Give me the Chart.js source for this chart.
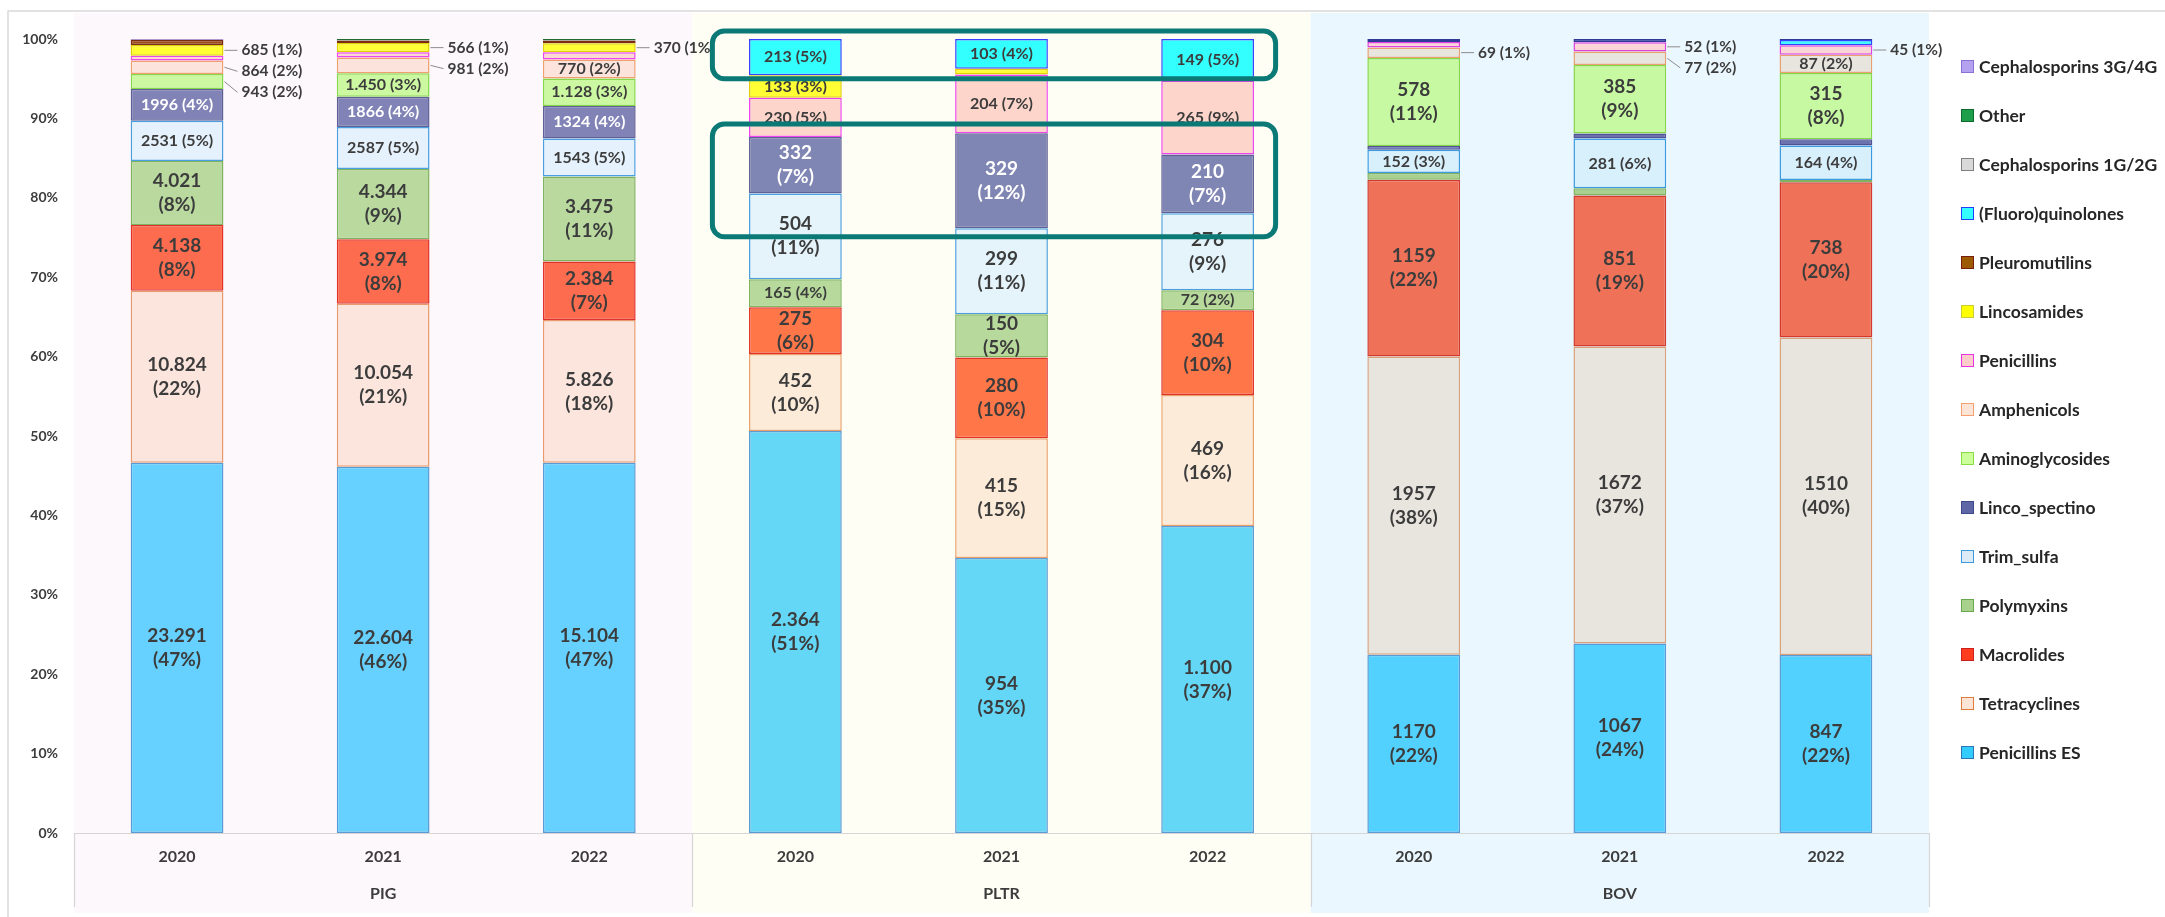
<!DOCTYPE html>
<html>
<head>
<meta charset="UTF-8">
<script src="https://cdn.jsdelivr.net/npm/chart.js@4"></script>
<style>
  * { margin: 0; padding: 0; box-sizing: border-box; }
  body { width: 2165px; height: 917px; background: #fff; overflow: hidden; font-family: Lato, 'Open Sans', sans-serif; }
  #wrap { position: relative; width: 2165px; height: 917px; }
  canvas { position: absolute; left: 0; top: 0; }
  #legend { position: absolute; left: 1961px; top: 41.5px; }
  .item { height: 49px; display: flex; align-items: center; font-weight: 700; font-size: 17.5px; color: #262626; white-space: nowrap; }
  .sw { width: 13px; height: 13px; border: 1.5px solid; margin-right: 5px; flex: none; }
</style>
</head>
<body>
<div id="wrap">
  <canvas id="chart" width="2165" height="917"></canvas>
  <div id="legend"></div>
</div>
<script>
// categories: PIG 2020-2022, PLTR 2020-2022, BOV 2020-2022
const years = ['2020', '2021', '2022', '2020', '2021', '2022', '2020', '2021', '2022'];
const groups = ['PIG', 'PLTR', 'BOV'];
const yTicks = [0, 10, 20, 30, 40, 50, 60, 70, 80, 90, 100];

// values per antimicrobial class (bottom of the stack first)
const penicillinsES   = [23291, 22604, 15104, 2364, 954, 1100, 1170, 1067, 847];
const tetracyclines   = [10824, 10054, 5826, 452, 415, 469, 1957, 1672, 1510];
const macrolides      = [4138, 3974, 2384, 275, 280, 304, 1159, 851, 738];
const polymyxins      = [4021, 4344, 3475, 165, 150, 72, 45, 40, 10];
const trimSulfa       = [2531, 2587, 1543, 504, 299, 276, 152, 281, 164];
const lincoSpectino   = [1996, 1866, 1324, 332, 329, 210, 25, 28, 30];
const aminoglycosides = [943, 1450, 1128, 0, 0, 0, 578, 385, 315];
const amphenicols     = [864, 981, 770, 0, 0, 0, 69, 77, 87];
const penicillins     = [290, 320, 300, 230, 204, 265, 35, 52, 45];
const lincosamides    = [685, 566, 370, 133, 20, 0, 0, 0, 0];
const pleuromutilins  = [320, 160, 110, 0, 0, 0, 0, 0, 0];
const fluoroquinolones = [0, 0, 0, 213, 103, 149, 0, 0, 25];
const cephalo12       = [0, 0, 0, 0, 0, 0, 0, 0, 0];
const other           = [0, 90, 60, 0, 0, 0, 0, 0, 0];
const cephalo34       = [50, 0, 0, 0, 0, 0, 20, 18, 5];
// totals the percentages in the labels refer to
const barTotals = [49953, 48996, 32394, 4668, 2754, 2973, 5210, 4471, 3776];

const seriesList = [
  ['Penicillins ES', penicillinsES],
  ['Tetracyclines', tetracyclines],
  ['Macrolides', macrolides],
  ['Polymyxins', polymyxins],
  ['Trim_sulfa', trimSulfa],
  ['Linco_spectino', lincoSpectino],
  ['Aminoglycosides', aminoglycosides],
  ['Amphenicols', amphenicols],
  ['Penicillins', penicillins],
  ['Lincosamides', lincosamides],
  ['Pleuromutilins', pleuromutilins],
  ['(Fluoro)quinolones', fluoroquinolones],
  ['Cephalosporins 1G/2G', cephalo12],
  ['Other', other],
  ['Cephalosporins 3G/4G', cephalo34]
];

// bar colours per panel [PIG, PLTR, BOV]
const fills = {
  'Penicillins ES': ['#66d1fe', '#64d7f6', '#52d1ff'],
  'Tetracyclines': ['#fbe5dd', '#fdebd9', '#e8e5df'],
  'Macrolides': ['#fd6c4e', '#ff7649', '#ee7158'],
  'Polymyxins': ['#b9d99f', '#b7d99b', '#a9d08e'],
  'Trim_sulfa': ['#e5f1fc', '#e4f4fa', '#d8effc'],
  'Linco_spectino': ['#8183b7', '#8086b3', '#6d72ae'],
  'Aminoglycosides': ['#ccf8a2', '#ccf8a2', '#c6f9a1'],
  'Amphenicols': ['#fce4dc', '#fde6d9', '#e8e5df'],
  'Penicillins': ['#fcd8d2', '#fdd5cb', '#fcd5d6'],
  'Lincosamides': ['#ffff33', '#ffff33', '#ffff33'],
  'Pleuromutilins': ['#9b4e1c', '#9b4e1c', '#9b4e1c'],
  '(Fluoro)quinolones': ['#33ffff', '#33ffff', '#33ffff'],
  'Cephalosporins 1G/2G': ['#d9d9d9', '#d9d9d9', '#d9d9d9'],
  'Other': ['#2e8b3e', '#2e8b3e', '#2e8b3e'],
  'Cephalosporins 3G/4G': ['#a58fdc', '#a58fdc', '#4b55b0']
};
const borders = {
  'Penicillins ES': ['#5b9bd5', '#5b9bd5', '#5b9bd5'],
  'Tetracyclines': ['#e99a6c', '#e9a26c', '#d9a27a'],
  'Macrolides': ['#e0322a', '#e0322a', '#d33a2e'],
  'Polymyxins': ['#7fb35f', '#7fb35f', '#7fb35f'],
  'Trim_sulfa': ['#4a9fe0', '#4a9fe0', '#3c9ae0'],
  'Linco_spectino': ['#5f6196', '#5f6196', '#4f5396'],
  'Aminoglycosides': ['#86d848', '#86d848', '#86d848'],
  'Amphenicols': ['#f0a070', '#f0a070', '#e8a070'],
  'Penicillins': ['#ee44ee', '#ee44ee', '#e040e0'],
  'Lincosamides': ['#e0d000', '#e0d000', '#e0d000'],
  'Pleuromutilins': ['#7a2d10', '#7a2d10', '#7a2d10'],
  '(Fluoro)quinolones': ['#3344ff', '#3344ff', '#3344ff'],
  'Cephalosporins 1G/2G': ['#8c8c8c', '#8c8c8c', '#8c8c8c'],
  'Other': ['#1f6b30', '#1f6b30', '#1f6b30'],
  'Cephalosporins 3G/4G': ['#7f5fc7', '#7f5fc7', '#2f3a98']
};
const legendColors = {
  'Cephalosporins 3G/4G': ['#b4a2f0', '#8a6fd6'],
  'Other': ['#1e9e4a', '#0d6b2e'],
  'Cephalosporins 1G/2G': ['#d9d9d9', '#7f7f7f'],
  '(Fluoro)quinolones': ['#33ffff', '#1f3fff'],
  'Pleuromutilins': ['#9c5b00', '#7a1f10'],
  'Lincosamides': ['#ffff00', '#cccc33'],
  'Penicillins': ['#ffcccc', '#e633e6'],
  'Amphenicols': ['#fce4d6', '#f4a070'],
  'Aminoglycosides': ['#ccff99', '#88dd44'],
  'Linco_spectino': ['#5f66a6', '#3f4888'],
  'Trim_sulfa': ['#ddebf7', '#3c9ae0'],
  'Polymyxins': ['#a9d18e', '#6aa84f'],
  'Macrolides': ['#ff3c1e', '#cc2020'],
  'Tetracyclines': ['#fce4d6', '#e07b39'],
  'Penicillins ES': ['#33ccff', '#2e75b6']
};
const panelColors = ['#fdf8fc', '#fefef5', '#ebf7fe'];
const FONT = 'Lato';
const TEXT = '#3c3c3c';

const sums = years.map((_, j) => seriesList.reduce((s, [, v]) => s + v[j], 0));

function fmt(v, name, g) {
  if (g === 2 || (g === 0 && (name === 'Trim_sulfa' || name === 'Linco_spectino'))) return String(v);
  return String(v).replace(/\B(?=(\d{3})+(?!\d))/g, '.');
}

const datasets = seriesList.map(([name, vals]) => ({
  label: name,
  data: vals.map((v, j) => v ? v / sums[j] * 100 : null),
  rawValues: vals,
  backgroundColor: years.map((_, j) => fills[name][Math.floor(j / 3)]),
  borderColor: years.map((_, j) => borders[name][Math.floor(j / 3)]),
  borderWidth: 1.5,
  borderSkipped: false,
  barPercentage: 0.45,
  categoryPercentage: 1
}));

const panelsPlugin = {
  id: 'panels',
  beforeDraw(chart) {
    const { ctx, chartArea: a } = chart;
    const step = (a.right - a.left) / years.length;
    ctx.save();
    ctx.fillStyle = '#fff';
    ctx.fillRect(0, 0, chart.width, chart.height);
    panelColors.forEach((c, g) => {
      ctx.fillStyle = c;
      ctx.fillRect(a.left + g * 3 * step, 13, 3 * step, 900);
    });
    // outer frame (top + left visible)
    ctx.strokeStyle = '#d9d9d9';
    ctx.lineWidth = 1.5;
    ctx.beginPath();
    ctx.moveTo(8, chart.height);
    ctx.lineTo(8, 11);
    ctx.lineTo(chart.width, 11);
    ctx.stroke();
    // category box
    ctx.strokeStyle = '#d6d6d6';
    ctx.lineWidth = 1.2;
    ctx.beginPath();
    ctx.moveTo(a.left, a.bottom + 0.5);
    ctx.lineTo(a.right, a.bottom + 0.5);
    for (let k = 0; k <= 3; k++) {
      const x = Math.round(a.left + k * 3 * step) + 0.5;
      ctx.moveTo(x, a.bottom);
      ctx.lineTo(x, a.bottom + 74);
    }
    ctx.stroke();
    ctx.fillStyle = TEXT;
    ctx.font = `bold 16px ${FONT}`;
    ctx.textAlign = 'center';
    ctx.textBaseline = 'middle';
    groups.forEach((g, i) => ctx.fillText(g, a.left + (i * 3 + 1.5) * step, 894));
    ctx.restore();
  }
};

const labelsPlugin = {
  id: 'segLabels',
  afterDatasetsDraw(chart) {
    const ctx = chart.ctx;
    const outside = years.map(() => []);
    ctx.save();
    ctx.textAlign = 'center';
    ctx.textBaseline = 'middle';
    chart.data.datasets.forEach((ds, di) => {
      const meta = chart.getDatasetMeta(di);
      meta.data.forEach((bar, j) => {
        const v = ds.rawValues[j];
        if (!v) return;
        const { x, y, base, width } = bar.getProps(['x', 'y', 'base', 'width'], true);
        const h = Math.abs(base - y);
        if (h < 8.5) return;
        const g = Math.floor(j / 3);
        const name = ds.label;
        const num = fmt(v, name, g);
        const pct = '(' + Math.round(v / barTotals[j] * 100) + '%)';
        const cy = (y + base) / 2;
        if (h < 17) {
          outside[j].push({ right: x + width / 2, cy, text: num + ' ' + pct });
          return;
        }
        ctx.fillStyle = name === 'Linco_spectino' ? '#ffffff' : TEXT;
        const oneLine = ['Penicillins', '(Fluoro)quinolones', 'Lincosamides', 'Amphenicols'].includes(name) ||
          (g !== 1 && (name === 'Trim_sulfa' || name === 'Linco_spectino')) || h < 42;
        if (oneLine) {
          ctx.font = `bold 16px ${FONT}`;
          ctx.fillText(num + ' ' + pct, x, cy);
        } else {
          ctx.font = `bold 19px ${FONT}`;
          ctx.fillText(num, x, cy - 12);
          ctx.fillText(pct, x, cy + 12);
        }
      });
    });
    // small segments: labels to the right with leader lines
    ctx.textAlign = 'left';
    ctx.font = `bold 15.5px ${FONT}`;
    outside.forEach(list => {
      list.sort((p, q) => p.cy - q.cy);
      let prev = -Infinity;
      list.forEach(l => {
        const ly = Math.max(l.cy, prev + 21);
        prev = ly;
        ctx.strokeStyle = '#8c8c8c';
        ctx.lineWidth = 1;
        ctx.beginPath();
        ctx.moveTo(l.right + 1, l.cy);
        ctx.lineTo(l.right + 14, ly);
        ctx.stroke();
        ctx.fillStyle = TEXT;
        ctx.fillText(l.text, l.right + 18, ly);
      });
    });
    ctx.restore();
  },
  afterDraw(chart) {
    // highlight boxes around the PLTR bars
    const { ctx, scales: { x, y } } = chart;
    const left = x.getPixelForValue(3) - 83;
    const right = x.getPixelForValue(5) + 68;
    ctx.save();
    ctx.strokeStyle = '#0b7a76';
    ctx.lineWidth = 5;
    [[101, 95], [89.3, 75.1]].forEach(([t, b]) => {
      const top = y.getPixelForValue(t);
      const bot = y.getPixelForValue(b);
      ctx.beginPath();
      ctx.roundRect(left, top, right - left, bot - top, 12);
      ctx.stroke();
    });
    ctx.restore();
  }
};

new Chart(document.getElementById('chart'), {
  type: 'bar',
  data: { labels: years, datasets },
  options: {
    responsive: false,
    animation: false,
    devicePixelRatio: 1,
    layout: { padding: { left: 0, top: 39, right: 236, bottom: 0 } },
    plugins: { legend: { display: false }, tooltip: { enabled: false } },
    scales: {
      x: {
        stacked: true,
        grid: { display: false, drawTicks: false },
        border: { display: false },
        ticks: { color: TEXT, font: { family: FONT, size: 16, weight: 'bold' }, padding: 14 },
        afterFit: s => { s.height = 84; }
      },
      y: {
        stacked: true,
        min: 0,
        max: 100,
        grid: { display: false, drawTicks: false },
        border: { display: false },
        afterBuildTicks: s => { s.ticks = yTicks.map(v => ({ value: v })); },
        ticks: { color: TEXT, font: { family: FONT, size: 14, weight: 'bold' }, padding: 16, callback: v => v + '%' },
        afterFit: s => { s.width = 74; }
      }
    }
  },
  plugins: [panelsPlugin, labelsPlugin]
});

// legend, top entry is the last series
const legend = document.getElementById('legend');
seriesList.slice().reverse().forEach(([name]) => {
  const [f, b] = legendColors[name];
  const item = document.createElement('div');
  item.className = 'item';
  item.innerHTML = `<span class="sw" style="background:${f};border-color:${b}"></span>${name}`;
  legend.appendChild(item);
});
</script>
</body>
</html>
